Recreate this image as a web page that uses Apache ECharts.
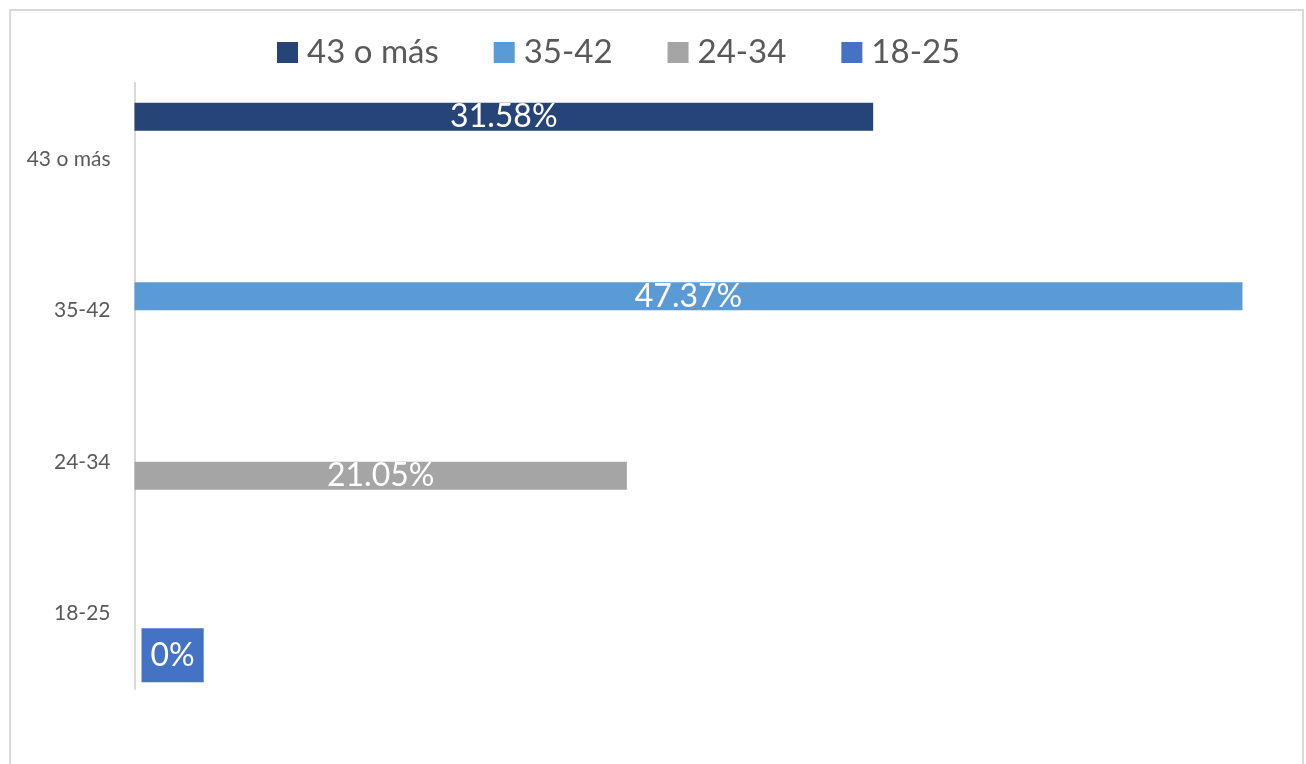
<!DOCTYPE html>
<html>
<head>
<meta charset="utf-8">
<script src="https://cdn.jsdelivr.net/npm/echarts@6/dist/echarts.min.js"></script>
<style>
html,body{margin:0;padding:0;background:#fff;}
#chart{width:1306px;height:764px;}
</style>
</head>
<body>
<div id="chart"></div>
<script>
const categories = ['43 o más', '35-42', '24-34', '18-25'];
const seriesNames = ['43 o más', '35-42', '24-34', '18-25'];
const values43 = [31.58, '-', '-', '-'];
const values35 = ['-', 47.37, '-', '-'];
const values24 = ['-', '-', 21.05, '-'];
const values18 = ['-', '-', '-', 0];
const colors = ['#264478', '#5B9BD5', '#A5A5A5', '#4472C4'];

const seriesData = [values43, values35, values24, values18];
const font = 'Lato, "Open Sans", sans-serif';

const chart = echarts.init(document.getElementById('chart'));
const series = seriesNames.map((name, i) => {
  const isZero = i === 3;
  return {
    name: name,
    type: 'bar',
    data: seriesData[i],
    barWidth: 28,
    barGap: '0%',
    barCategoryGap: '26%',
    itemStyle: { color: colors[i] },
    label: isZero ? {
      show: true,
      position: 'right',
      distance: 7,
      formatter: p => p.value + '%',
      color: '#fff',
      fontFamily: font,
      fontSize: 32,
      lineHeight: 32,
      backgroundColor: colors[i],
      padding: [11, 9, 11, 9]
    } : {
      show: true,
      position: 'inside',
      formatter: p => p.value.toFixed(2) + '%',
      color: '#fff',
      fontFamily: font,
      fontSize: 32
    }
  };
});

chart.setOption({
  animation: false,
  color: colors,
  graphic: [{
    type: 'rect',
    shape: { x: 10, y: 10, width: 1293, height: 800 },
    style: { fill: 'none', stroke: '#D9D9D9', lineWidth: 2 },
    silent: true
  }],
  legend: {
    top: 31,
    left: 272,
    itemWidth: 21,
    itemHeight: 21,
    itemGap: 55,
    icon: 'rect',
    data: seriesNames,
    textStyle: { fontFamily: font, fontSize: 33, color: '#595959', padding: [0, 0, 0, 4] }
  },
  grid: { left: 134.5, top: 83, width: 1169.5, height: 606, containLabel: false },
  xAxis: {
    type: 'value',
    min: 0,
    max: 50,
    show: false
  },
  yAxis: {
    type: 'category',
    inverse: true,
    data: categories,
    axisLine: { show: true, lineStyle: { color: '#D9D9D9', width: 2 } },
    axisTick: { show: false },
    axisLabel: { fontFamily: font, fontSize: 21, color: '#595959', margin: 24 }
  },
  series: series
});
</script>
</body>
</html>
